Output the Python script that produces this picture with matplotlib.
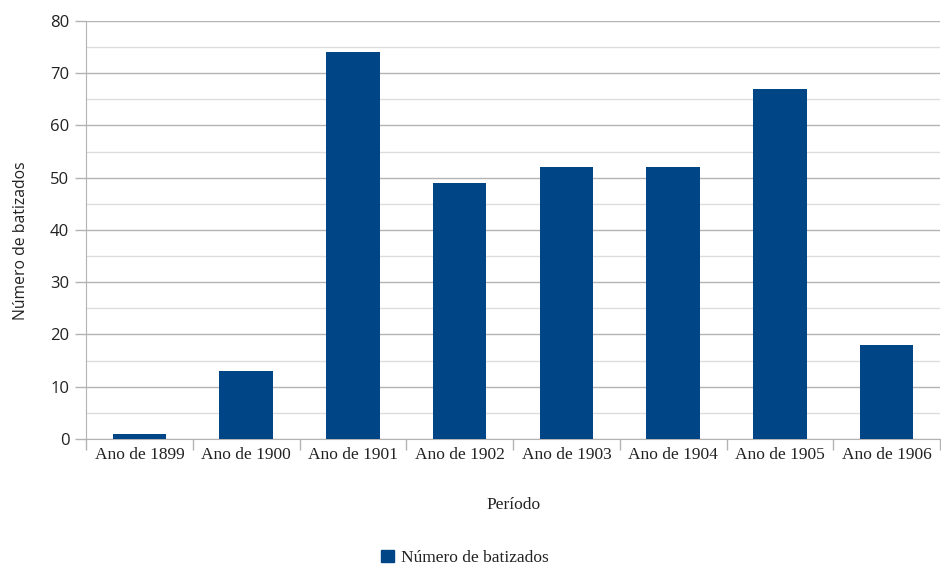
import numpy as np
import matplotlib.pyplot as plt
from matplotlib.ticker import MultipleLocator
from matplotlib.patches import Patch

anos = ["Ano de 1899", "Ano de 1900", "Ano de 1901", "Ano de 1902",
        "Ano de 1903", "Ano de 1904", "Ano de 1905", "Ano de 1906"]
batizados = [1, 13, 74, 49, 52, 52, 67, 18]

azul = "#004586"
cinza = "#b3b3b3"
texto = "#222222"
serif = ['Liberation Serif', 'DejaVu Serif']
sans = ['Open Sans', 'DejaVu Sans']

plt.rcParams['font.family'] = sans

fig = plt.figure(figsize=(9.41, 5.65), dpi=100)
ax = fig.add_axes([0.0914, 0.223, 0.9076, 0.740])

x = np.arange(len(anos))
ax.bar(x, batizados, width=0.5, color=azul, zorder=3)

ax.set_xlim(-0.5, len(anos) - 0.5)
ax.set_ylim(0, 80)
ax.yaxis.set_major_locator(MultipleLocator(10))
ax.yaxis.set_minor_locator(MultipleLocator(5))
ax.grid(axis='y', which='major', color=cinza, linewidth=1.0, zorder=0)
ax.grid(axis='y', which='minor', color='#dddddd', linewidth=1.0, zorder=0)

# category labels centred under the bars, ticks on the boundaries
ax.set_xticks(np.arange(-0.5, len(anos)), minor=False)
ax.set_xticklabels([])
ax.set_xticks(x, minor=True)
ax.set_xticklabels(anos, minor=True, fontsize=12.5, color=texto, family=serif)
ax.tick_params(axis='x', which='major', length=8, color=cinza, width=1)
ax.tick_params(axis='x', which='minor', length=0, pad=6)
ax.tick_params(axis='y', which='major', length=8, color=cinza, width=1,
               labelsize=12, labelcolor=texto, pad=4)
ax.tick_params(axis='y', which='minor', length=0)

for s in ['top', 'right']:
    ax.spines[s].set_visible(False)
ax.spines['left'].set_color(cinza)
ax.spines['bottom'].set_color(cinza)

ax.set_xlabel("Período", fontsize=12.5, color=texto, labelpad=24, family=serif)
ax.set_ylabel("Número de batizados", fontsize=11.3, color=texto)
ax.yaxis.set_label_coords(-0.067, 0.474)

fig.legend(handles=[Patch(color=azul, label="Número de batizados")],
           loc='center', bbox_to_anchor=(0.494, 0.013), frameon=False,
           prop={'family': serif, 'size': 12.5}, handlelength=0.7,
           handleheight=0.7, handletextpad=0.4, labelcolor=texto)

fig.savefig("out.png", dpi=100, facecolor='white')
